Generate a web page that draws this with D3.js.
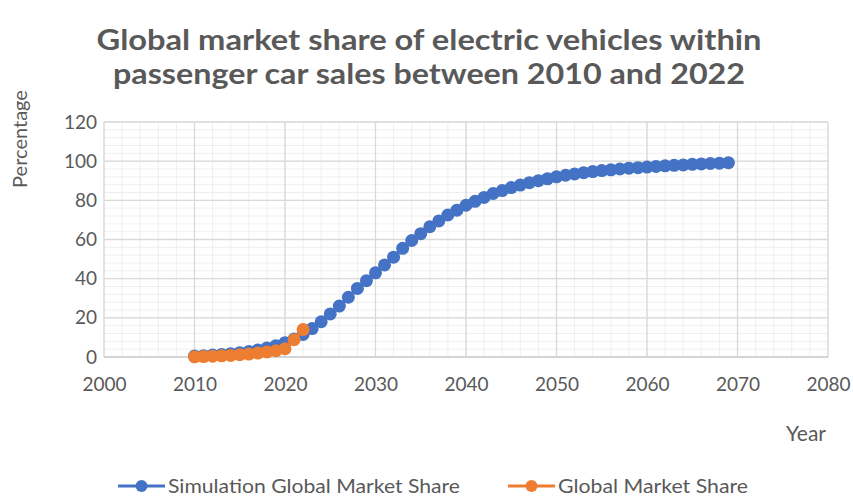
<!DOCTYPE html>
<html>
<head>
<meta charset="utf-8">
<script src="https://cdn.jsdelivr.net/npm/d3@7"></script>
<style>
  body { margin: 0; background: #fff; }
  text { font-family: Lato, "Open Sans", sans-serif; fill: #595959; }
</style>
</head>
<body>
<div class="chart"></div>
<script>
// simulated share, one point per year 2010..2069
var simYears = d3.range(2010, 2070);
var simShare = [0.5, 0.7, 1.0, 1.3, 1.7, 2.2, 2.8, 3.6, 4.6, 5.8,
                7.3, 9.2, 11.5, 14.5, 18, 22, 26, 30.5, 35, 39,
                43, 47, 51, 55.5, 59.5, 63, 66.5, 69.5, 72.5, 75,
                77.5, 79.5, 81.5, 83.5, 85, 86.5, 87.8, 89, 90, 91,
                92, 92.8, 93.5, 94.1, 94.7, 95.2, 95.6, 96, 96.4, 96.7,
                97, 97.3, 97.6, 97.9, 98.1, 98.4, 98.6, 98.8, 99, 99.2];
// observed share 2010..2022
var realYears = d3.range(2010, 2023);
var realShare = [0.1, 0.2, 0.4, 0.6, 0.8, 1.2, 1.5, 2.0, 2.6, 3.2, 4.2, 8.8, 14];

var xTicks = [2000, 2010, 2020, 2030, 2040, 2050, 2060, 2070, 2080];
var yTicks = [0, 20, 40, 60, 80, 100, 120];

var titleLines = ["Global market share of electric vehicles within",
                  "passenger car sales between 2010 and 2022"];
var titleWidths = [665, 632];
var seriesNames = ["Simulation Global Market Share", "Global Market Share"];
var legendWidths = [292, 190];
var colors = ["#4472C4", "#ED7D31"];

var W = 853, H = 496;
var margin = {top: 122, right: 25, bottom: 139, left: 104},
    width = W - margin.left - margin.right,
    height = H - margin.top - margin.bottom;

var svg = d3.select(".chart")
  .append("svg")
    .attr("width", W)
    .attr("height", H);

// title
svg.selectAll(".title")
  .data(titleLines)
  .enter()
  .append("text")
    .attr("class", "title")
    .attr("x", 429)
    .attr("y", function(d, i) { return 50 + i * 34; })
    .attr("text-anchor", "middle")
    .attr("textLength", function(d, i) { return titleWidths[i]; })
    .attr("lengthAdjust", "spacingAndGlyphs")
    .style("font-size", "29px")
    .style("font-weight", "bold")
    .text(function(d) { return d; });

var g = svg.append("g")
    .attr("transform", "translate(" + margin.left + "," + margin.top + ")");

var x = d3.scaleLinear().domain([2000, 2080]).range([0, width]);
var y = d3.scaleLinear().domain([0, 120]).range([height, 0]);

// minor grid
g.selectAll(".vminor")
  .data(d3.range(2000, 2081, 2))
  .enter().append("line")
    .attr("x1", function(d) { return x(d); }).attr("x2", function(d) { return x(d); })
    .attr("y1", 0).attr("y2", height)
    .attr("stroke", "#efefef").attr("stroke-width", 1);
g.selectAll(".hminor")
  .data(d3.range(0, 121, 4))
  .enter().append("line")
    .attr("y1", function(d) { return y(d); }).attr("y2", function(d) { return y(d); })
    .attr("x1", 0).attr("x2", width)
    .attr("stroke", "#efefef").attr("stroke-width", 1);

// major grid
g.selectAll(".vmajor")
  .data(xTicks)
  .enter().append("line")
    .attr("x1", function(d) { return x(d); }).attr("x2", function(d) { return x(d); })
    .attr("y1", 0).attr("y2", height)
    .attr("stroke", "#d9d9d9").attr("stroke-width", 1.3);
g.selectAll(".hmajor")
  .data(yTicks)
  .enter().append("line")
    .attr("y1", function(d) { return y(d); }).attr("y2", function(d) { return y(d); })
    .attr("x1", 0).attr("x2", width)
    .attr("stroke", "#d9d9d9").attr("stroke-width", 1.3);

// axes (labels only)
var xAxis = g.append("g")
  .attr("transform", "translate(0," + height + ")")
  .call(d3.axisBottom(x).tickValues(xTicks).tickFormat(d3.format("d")).tickSize(0).tickPadding(21));
var yAxis = g.append("g")
  .call(d3.axisLeft(y).tickValues(yTicks).tickSize(0).tickPadding(7));
[xAxis, yAxis].forEach(function(a) {
  a.select(".domain").remove();
  a.selectAll("text").style("font-size", "19px").style("fill", "#595959")
    .style("font-family", "Lato, sans-serif");
});
g.append("line")
  .attr("x1", 0).attr("x2", width).attr("y1", height).attr("y2", height)
  .attr("stroke", "#d0d0d0").attr("stroke-width", 1.5);

// axis titles
svg.append("text")
  .attr("x", 806).attr("y", 441)
  .attr("text-anchor", "middle")
  .style("font-size", "21px")
  .text("Year");
svg.append("text")
  .attr("transform", "translate(27,139)rotate(-90)")
  .attr("text-anchor", "middle")
  .style("font-size", "20px")
  .text("Percentage");

// series
var series = [
  simYears.map(function(d, i) { return [d, simShare[i]]; }),
  realYears.map(function(d, i) { return [d, realShare[i]]; })
];
var line = d3.line()
  .x(function(d) { return x(d[0]); })
  .y(function(d) { return y(d[1]); });

series.forEach(function(s, k) {
  g.append("path")
    .datum(s)
    .attr("d", line)
    .attr("fill", "none")
    .attr("stroke", colors[k])
    .attr("stroke-width", 3);
  g.selectAll(".dot" + k)
    .data(s)
    .enter().append("circle")
      .attr("cx", function(d) { return x(d[0]); })
      .attr("cy", function(d) { return y(d[1]); })
      .attr("r", 6.5)
      .attr("fill", colors[k]);
});

// legend
var legX = [118, 508];
var leg = svg.selectAll(".leg")
  .data(seriesNames)
  .enter().append("g")
    .attr("transform", function(d, i) { return "translate(" + legX[i] + ",486)"; });
leg.append("line")
  .attr("x1", 0).attr("x2", 47).attr("y1", 0).attr("y2", 0)
  .attr("stroke", function(d, i) { return colors[i]; })
  .attr("stroke-width", 3);
leg.append("circle")
  .attr("cx", 23.5).attr("cy", 0).attr("r", 6)
  .attr("fill", function(d, i) { return colors[i]; });
leg.append("text")
  .attr("x", 50).attr("y", 6.5)
  .attr("textLength", function(d, i) { return legendWidths[i]; })
  .attr("lengthAdjust", "spacingAndGlyphs")
  .style("font-size", "19px")
  .text(function(d) { return d; });
</script>
</body>
</html>
